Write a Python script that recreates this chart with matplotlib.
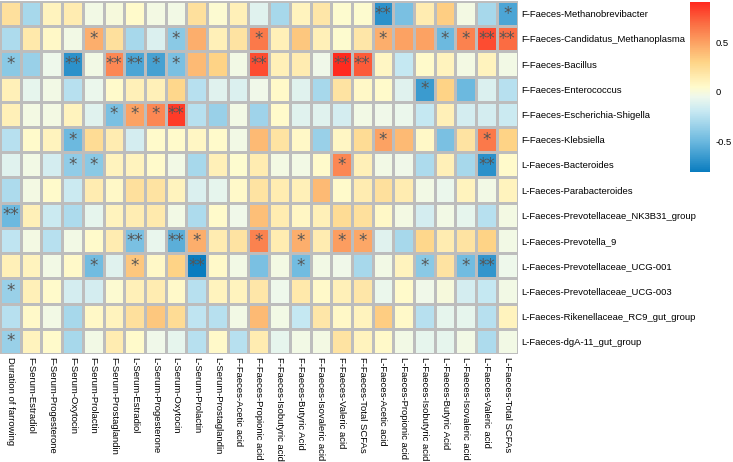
import numpy as np
import matplotlib.pyplot as plt
from matplotlib.colors import LinearSegmentedColormap, Normalize

plt.rcParams['font.family'] = ['Liberation Sans', 'DejaVu Sans']

# строки и столбцы тепловой карты
row_labels = [
    "F-Faeces-Methanobrevibacter",
    "F-Faeces-Candidatus_Methanoplasma",
    "F-Faeces-Bacillus",
    "F-Faeces-Enterococcus",
    "F-Faeces-Escherichia-Shigella",
    "F-Faeces-Klebsiella",
    "L-Faeces-Bacteroides",
    "L-Faeces-Parabacteroides",
    "L-Faeces-Prevotellaceae_NK3B31_group",
    "L-Faeces-Prevotella_9",
    "L-Faeces-Prevotellaceae_UCG-001",
    "L-Faeces-Prevotellaceae_UCG-003",
    "L-Faeces-Rikenellaceae_RC9_gut_group",
    "L-Faeces-dgA-11_gut_group",
]

col_labels = [
    "Duration of farrowing",
    "F-Serum-Estradiol", "F-Serum-Progesterone", "F-Serum-Oxytocin",
    "F-Serum-Prolactin", "F-Serum-Prostaglandin",
    "L-Serum-Estradiol", "L-Serum-Progesterone", "L-Serum-Oxytocin",
    "L-Serum-Prolactin", "L-Serum-Prostaglandin",
    "F-Faeces-Acetic acid", "F-Faeces-Propionic acid", "F-Faeces-Isobutyric acid",
    "F-Faeces-Butyric Acid", "F-Faeces-Isovaleric acid", "F-Faeces-Valeric acid",
    "F-Faeces-Total SCFAs",
    "L-Faeces-Acetic acid", "L-Faeces-Propionic acid", "L-Faeces-Isobutyric acid",
    "L-Faeces-Butyric Acid", "L-Faeces-Isovaleric acid", "L-Faeces-Valeric acid",
    "L-Faeces-Total SCFAs",
]

# коэффициенты корреляции (на глаз)
corr = np.array([
    [0.22, -0.3, 0.1, 0.15, -0.03, 0.0, 0.05, -0.02, -0.03, 0.22, 0.03, 0.12, -0.1, -0.3, 0.1, 0.18, 0.04, 0.04, -0.7, -0.45, 0.15, 0.32, -0.02, -0.3, -0.6],
    [-0.28, 0.17, 0.07, -0.03, 0.45, 0.22, -0.3, -0.12, -0.4, 0.45, 0.12, 0.2, 0.65, 0.12, 0.35, 0.12, 0.04, 0.18, 0.45, 0.5, 0.5, -0.5, 0.62, 0.8, 0.7],
    [-0.4, -0.35, -0.05, -0.7, -0.03, 0.6, -0.6, -0.62, -0.45, 0.4, 0.3, -0.03, 0.8, 0.12, 0.15, -0.04, 0.91, 0.75, 0.08, -0.2, 0.05, 0.1, -0.02, 0.1, -0.03],
    [0.12, -0.08, -0.03, -0.25, -0.06, 0.05, 0.12, 0.12, 0.28, -0.25, -0.1, -0.12, -0.04, 0.06, -0.1, -0.3, 0.2, 0.07, 0.05, -0.1, -0.65, 0.3, -0.5, -0.12, -0.25],
    [0.12, -0.02, -0.02, 0.1, -0.1, -0.45, 0.5, 0.6, 0.85, -0.25, -0.35, -0.03, -0.33, 0.05, -0.1, -0.1, -0.15, -0.03, -0.04, -0.06, -0.2, 0.12, -0.15, -0.15, -0.18],
    [-0.25, 0.05, 0.1, -0.5, 0.25, 0.15, -0.15, 0.05, 0.05, 0.08, 0.05, -0.03, 0.4, 0.2, 0.07, -0.35, 0.08, 0.25, 0.5, 0.4, 0.07, -0.45, 0.2, 0.65, 0.3],
    [-0.1, -0.03, -0.15, -0.38, -0.4, 0.1, 0.1, 0.05, -0.03, -0.3, 0.12, 0.04, 0.15, -0.02, -0.03, 0.05, 0.6, 0.12, -0.03, -0.04, -0.28, 0.12, -0.3, -0.7, 0.05],
    [-0.28, -0.02, 0.05, -0.18, 0.15, 0.07, 0.22, 0.2, 0.1, -0.12, -0.08, 0.06, 0.2, 0.15, 0.12, 0.4, 0.05, 0.15, 0.22, 0.15, -0.03, -0.06, 0.1, -0.03, 0.1],
    [-0.5, 0.12, -0.18, -0.28, -0.08, 0.1, 0.14, 0.16, -0.03, -0.28, 0.05, -0.04, 0.38, 0.15, 0.08, 0.12, 0.25, 0.22, 0.07, -0.02, -0.15, -0.03, -0.08, -0.25, -0.02],
    [-0.22, -0.02, -0.25, -0.03, 0.05, 0.15, -0.45, -0.07, -0.55, 0.45, 0.15, 0.2, 0.62, 0.15, 0.45, 0.15, 0.52, 0.48, -0.1, -0.3, 0.28, 0.15, 0.2, 0.3, -0.03],
    [0.12, 0.1, -0.03, 0.06, -0.48, -0.1, 0.35, 0.07, 0.3, -0.81, 0.06, -0.03, -0.45, -0.02, -0.48, -0.03, -0.04, -0.3, -0.03, 0.1, -0.4, 0.2, -0.48, -0.68, -0.05],
    [-0.35, 0.12, 0.05, -0.15, -0.15, 0.03, 0.12, 0.15, 0.06, -0.25, 0.1, 0.1, 0.18, -0.05, 0.17, 0.06, 0.12, 0.18, -0.06, 0.05, -0.04, 0.0, -0.15, -0.2, -0.03],
    [-0.25, 0.06, -0.03, -0.3, 0.07, 0.1, 0.22, 0.35, 0.25, -0.22, -0.25, -0.03, 0.4, -0.03, -0.2, 0.18, 0.07, 0.1, 0.33, 0.06, -0.25, -0.08, -0.08, -0.25, 0.1],
    [-0.35, 0.1, 0.05, -0.3, -0.03, 0.15, 0.05, -0.04, -0.08, -0.25, 0.06, -0.25, 0.15, -0.08, -0.03, -0.02, 0.2, 0.1, 0.06, -0.03, -0.08, -0.08, -0.03, -0.28, -0.03],
])

# уровень значимости: 0 - нет, 1 - *, 2 - **
sig_rows = [
    "0000000000000000002000001",
    "0000100010001000001001122",
    "1002022110002000220000000",
    "0000000000000000000010000",
    "0000011120000000000000000",
    "0001000000000000001000010",
    "0001100000000000100000020",
    "0000000000000000000000000",
    "2000000000000000000000000",
    "0000002021001010110000000",
    "0000101002000010000010120",
    "1000000000000000000000000",
    "0000000000000000000000000",
    "1000000000000000000000000",
]

vmin, vmax = -0.81, 0.91
anchors = [(-0.81, "#0a7cbf"), (-0.5, "#6cb9df"), (-0.2, "#c6e8f2"),
           (-0.05, "#eef8ec"), (0.05, "#fffbcc"), (0.3, "#fed487"),
           (0.5, "#fca263"), (0.7, "#fb6c42"), (0.91, "#ff2a1f")]
cmap = LinearSegmentedColormap.from_list(
    "pheat", [((v - vmin) / (vmax - vmin), c) for v, c in anchors])
norm = Normalize(vmin, vmax)

W, H = 733, 462
fig = plt.figure(figsize=(W / 100, H / 100), dpi=100)
ax = fig.add_axes([0, (H - 354) / H, 517.5 / W, 353 / H])

ax.pcolormesh(corr, cmap=cmap, norm=norm, edgecolors="#bdbdbd", linewidth=0.8)
ax.set_xlim(0, len(col_labels))
ax.set_ylim(len(row_labels), 0)

# звёздочки значимости
for i, s in enumerate(sig_rows):
    for j, ch in enumerate(s):
        if ch != "0":
            ax.text(j + 0.5, i + 0.5, "*" * int(ch), ha="center", va="center",
                    color="#555555", fontsize=12, family="DejaVu Sans")

ax.set_xticks(np.arange(len(col_labels)) + 0.5)
ax.set_xticklabels(col_labels, rotation=-90, va="top", ha="center", fontsize=6.8)
ax.set_yticks(np.arange(len(row_labels)) + 0.5)
ax.set_yticklabels(row_labels, fontsize=6.8)
ax.yaxis.tick_right()
ax.tick_params(length=0, pad=2.5)
for sp in ax.spines.values():
    sp.set_visible(False)

# легенда-шкала
cax = fig.add_axes([690 / W, (H - 172) / H, 20 / W, 170 / H])
cb = fig.colorbar(plt.cm.ScalarMappable(norm=norm, cmap=cmap), cax=cax)
cb.outline.set_visible(False)
cb.set_ticks([-0.5, 0, 0.5])
cb.set_ticklabels(["-0.5", "0", "0.5"])
cax.tick_params(length=0, pad=4, labelsize=6.8)

fig.savefig("out.png", dpi=100)
